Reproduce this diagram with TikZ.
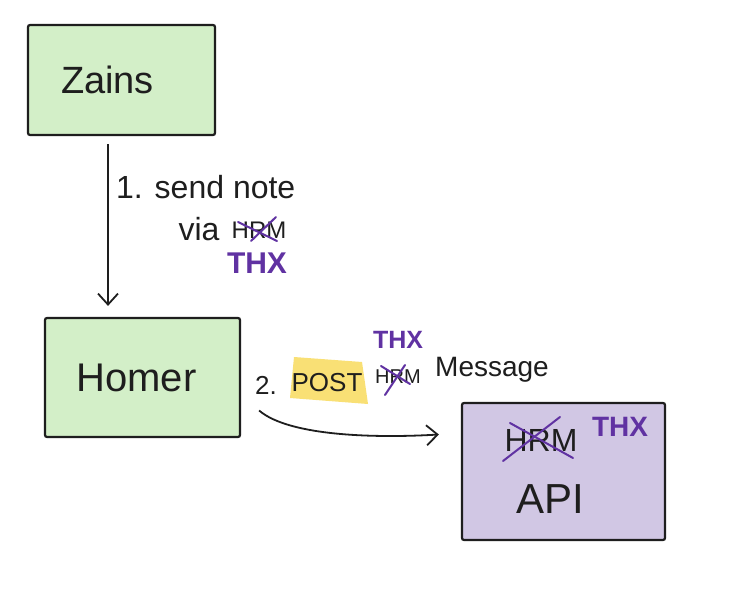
\documentclass[tikz,border=0pt]{standalone}
\usepackage{fontspec}
\setmainfont{Liberation Sans}
\usetikzlibrary{arrows.meta}
\definecolor{boxgreen}{RGB}{211,239,200}
\definecolor{boxpurple}{RGB}{209,199,228}
\definecolor{ink}{RGB}{30,30,30}
\definecolor{pink}{RGB}{96,50,162}
\definecolor{hilite}{RGB}{247,214,72}
\begin{document}
\begin{tikzpicture}[x=1pt,y=-1pt,
  sketchbox/.style={draw=ink,line width=2.2pt,rounded corners=2pt,inner sep=0pt},
  greenbox/.style={sketchbox,fill=boxgreen},
  purplebox/.style={sketchbox,fill=boxpurple},
  inktext/.style={text=ink,inner sep=0pt},
  thxtext/.style={text=pink,inner sep=0pt,font=\fontsize{28}{30}\selectfont\bfseries},
  conn/.style={draw=ink,line width=1.8pt,-{Straight Barb[length=11pt,width=20pt,line width=1.8pt]}},
  strike/.style={draw=pink,line width=2pt,line cap=round}]
\useasboundingbox[fill=white] (0,0) rectangle (747,594);

% boxes
\node[greenbox,minimum width=187pt,minimum height=110pt,font=\fontsize{38}{40}\selectfont] (zains) at (121.5,80) {\textcolor{ink}{Zains}\hspace*{28pt}};
\node[greenbox,minimum width=195pt,minimum height=119pt,font=\fontsize{40}{42}\selectfont] (homer) at (142.5,377.5) {\textcolor{ink}{Homer}\hspace*{12pt}};
\node[purplebox,minimum width=203pt,minimum height=137pt] (api) at (563.5,471.5) {};

% API box contents
\node[inktext,font=\fontsize{32}{34}\selectfont] (hrm3) at (541,440) {HRM};
\node[thxtext] (thx3) at (620,427) {THX};
\node[inktext,font=\fontsize{42}{44}\selectfont] (apitext) at (550,499) {API};
\draw[strike] (503,461) -- (560,417);
\draw[strike] (510,423) -- (573,458);

% label 1
\node[inktext,anchor=west,font=\fontsize{32}{34}\selectfont] (l1a) at (116,187) {1. send note};
\node[inktext,font=\fontsize{32}{34}\selectfont] (via) at (199,229) {via};
\node[inktext,font=\fontsize{24}{26}\selectfont] (hrm1) at (259,230) {HRM};
\node[thxtext,font=\fontsize{30}{32}\selectfont\bfseries] (thx1) at (257,263) {THX};
\draw[strike] (238,222) -- (277,241);
\draw[strike] (251,241) -- (276,217);

% label 2
\fill[hilite,opacity=0.75] (294,357) -- (362,362) -- (368,404) -- (290,398) -- cycle;
\node[inktext,font=\fontsize{26}{28}\selectfont] (two) at (266,385) {2.};
\node[inktext,font=\fontsize{26}{28}\selectfont] (post) at (327,383) {POST};
\node[inktext,font=\fontsize{20}{22}\selectfont] (hrm2) at (398,377) {HRM};
\node[thxtext,font=\fontsize{25}{27}\selectfont\bfseries] (thx2) at (398,340) {THX};
\node[inktext,font=\fontsize{28}{30}\selectfont] (msg) at (492,370) {Message};
\draw[strike] (381,366) -- (410,384);
\draw[strike] (385,395) -- (405,365);

% connectors
\draw[conn] ([xshift=-13.5pt,yshift=-8pt]zains.south) -- ([xshift=-34.5pt,yshift=11pt]homer.north);
\draw[conn] ([xshift=18pt,yshift=-33pt]homer.east) .. controls (290,437) and (380,438) .. ([xshift=-22pt,yshift=37pt]api.west);
\end{tikzpicture}
\end{document}
